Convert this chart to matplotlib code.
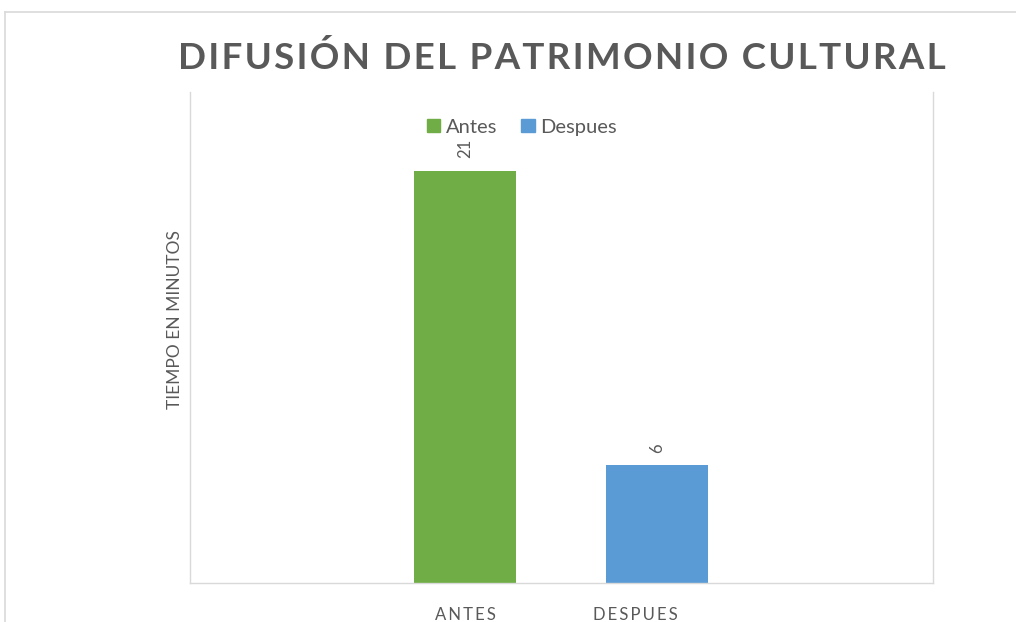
import matplotlib
matplotlib.use("Agg")
import matplotlib.pyplot as plt
from matplotlib.lines import Line2D
from matplotlib.patches import Patch

categories = ["ANTES", "DESPUES"]
series_names = ["Antes", "Despues"]
values = [21, 6]
colors = ["#70AD47", "#5B9BD5"]
title = "DIFUSIÓN DEL PATRIMONIO CULTURAL"
ylabel = "TIEMPO EN MINUTOS"

plt.rcParams['font.family'] = ['Lato', 'DejaVu Sans']
txt = "#595959"
grid = "#D9D9D9"

def spaced(s, sep="\u200a"):
    return sep.join(s)

fig = plt.figure(figsize=(10.16, 6.22), dpi=100)
ax = fig.add_axes([190/1016, 39/622, (933-190)/1016, (583-92)/622])

x = [0, 1]
ax.bar(x, values, width=0.53, color=colors)
ax.set_xlim(-1.432, 2.4375)
ax.set_ylim(0, 25)
ax.set_yticks([])
ax.set_xticks([])
ax.spines["top"].set_visible(False)
for s in ["left", "right", "bottom"]:
    ax.spines[s].set_color(grid)
    ax.spines[s].set_linewidth(1)

for xi, v in zip(x, values):
    ax.annotate(str(v), (xi, v), xytext=(0, 9), textcoords="offset points",
                ha="center", va="bottom", rotation=90, color=txt, fontsize=12)

for xi, c, dx in zip(x, categories, [0.0, -0.11]):
    ax.text(xi + dx, -0.065, spaced(c, "\u2009"), transform=ax.get_xaxis_transform(),
            ha="center", va="center", fontsize=12, color=txt)

fig.text(175/1016, 1 - 320/622, ylabel, rotation=90, ha="center", va="center",
         fontsize=12.5, color=txt)

fig.text(562/1016, 1 - 58/622, spaced(title), ha="center", va="center",
         fontsize=26.5, fontweight="bold", color=txt)

handles = [Patch(color=c, label=n) for c, n in zip(colors, series_names)]
fig.legend(handles=handles, loc="center", bbox_to_anchor=(522/1016, 1 - 127/622),
           ncol=2, frameon=False, fontsize=14.5, labelcolor=txt,
           handlelength=0.65, handleheight=0.65, handletextpad=0.3, columnspacing=1.2)

fig.add_artist(Line2D([5/1016, 1], [1 - 12/622, 1 - 12/622], color=grid, lw=1.2))
fig.add_artist(Line2D([5/1016, 5/1016], [0, 1 - 12/622], color=grid, lw=1.2))

fig.savefig("out.png", dpi=100)
